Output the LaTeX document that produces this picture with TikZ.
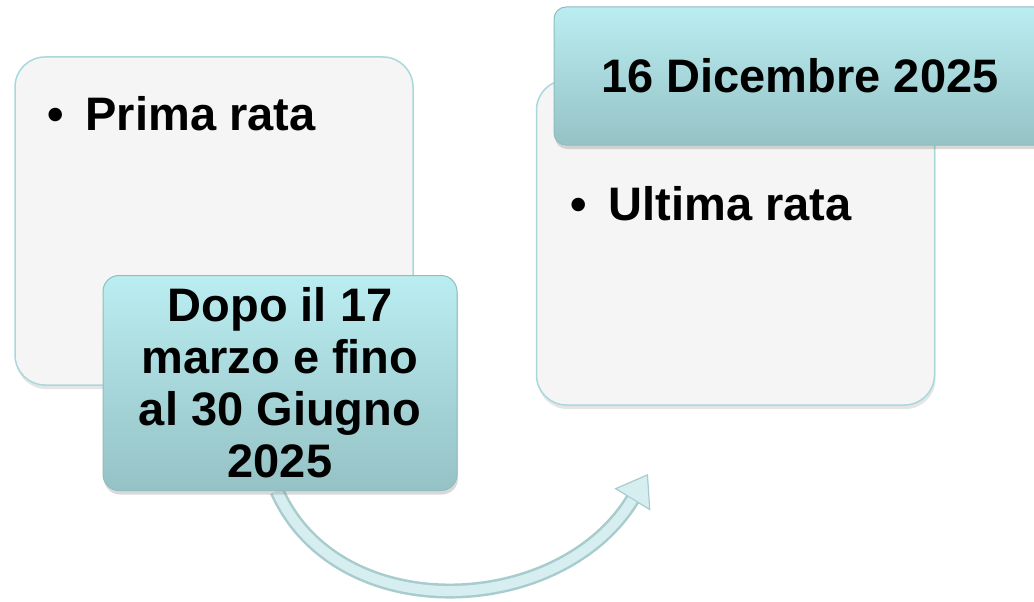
\documentclass[tikz,border=0pt]{standalone}
\usepackage{fontspec}
\setmainfont{Liberation Sans}
\usetikzlibrary{positioning,shadows,arrows.meta,backgrounds}
\definecolor{panelfill}{HTML}{F5F5F5}
\definecolor{paneledge}{HTML}{A9D8DD}
\definecolor{tagtop}{HTML}{BAEDF1}
\definecolor{tagbottom}{HTML}{95C2C5}
\definecolor{tagedge}{HTML}{8FBDC0}
\definecolor{arrowedge}{HTML}{A8CCCE}
\definecolor{arrowface}{HTML}{D6EEF0}
\tikzset{
  bigfont/.style={font=\bfseries\fontsize{47}{52}\selectfont},
  panel/.style={draw=paneledge, line width=1.5pt, fill=panelfill, rounded corners=30pt,
    minimum width=398pt, minimum height=328pt,
    drop shadow={shadow xshift=1pt, shadow yshift=-4pt, opacity=.2}},
  tag/.style={draw=tagedge, line width=1pt, top color=tagtop, bottom color=tagbottom,
    rounded corners=16pt, align=center, inner sep=0pt, bigfont,
    drop shadow={shadow xshift=1pt, shadow yshift=-4pt, opacity=.3}},
  bullet/.style={anchor=base west, inner sep=0pt, bigfont}
}
\begin{document}
\begin{tikzpicture}[x=1pt,y=-1pt]
\useasboundingbox (0,0) rectangle (1034,602);
\node[panel] (first) at (214,221) {};
\node[panel, minimum height=325pt] (last) at (735.5,242.5) {};
\node[bullet] (firsttext) at (47,130) {•\hspace{22pt}Prima rata};
\node[bullet] (lasttext) at (570,220) {•\hspace{22pt}Ultima rata};
\node[tag, minimum width=354pt, minimum height=215pt] (window) at (280,383)
  {Dopo il 17\\marzo e fino\\al 30 Giugno\\2025};
\node[tag, minimum width=492pt, minimum height=138pt, rounded corners=12pt] (deadline) at (800,76)
  {16 Dicembre 2025};
% curved arrow under the date box
\coordinate (to) at (648,474);
\begin{scope}[on background layer]
  \fill[white] (0,0) rectangle (1034,602);
  \draw[arrowedge, line width=15pt, -{Triangle[width=42pt,length=30pt,fill=arrowface,line width=1.2pt]}]
    ([xshift=-3pt]window.south) .. controls (338,628) and (560,618) .. (to);
  \draw[arrowface, line width=10pt, shorten >=30pt]
    ([xshift=-3pt]window.south) .. controls (338,628) and (560,618) .. (to);
\end{scope}
\end{tikzpicture}
\end{document}
